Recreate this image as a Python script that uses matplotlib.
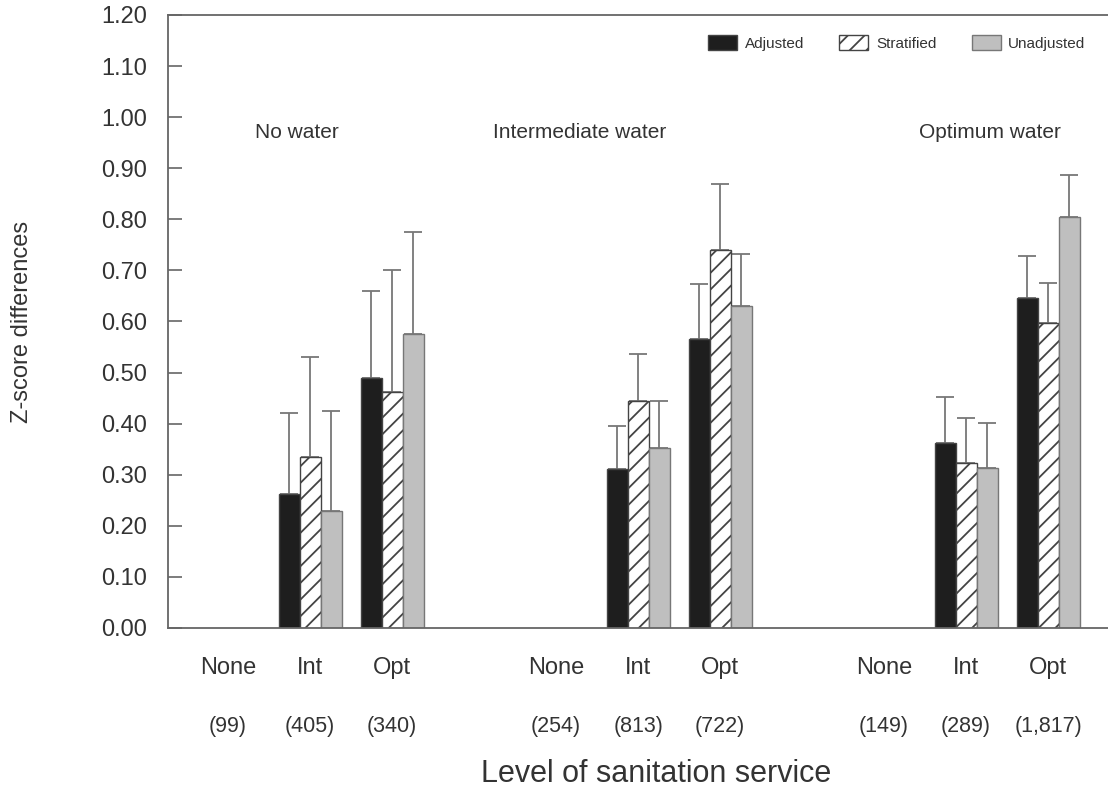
import numpy as np
import matplotlib
matplotlib.use("Agg")
import matplotlib.pyplot as plt

plt.rcParams['font.family'] = ['Liberation Sans', 'DejaVu Sans']
plt.rcParams['hatch.linewidth'] = 1.3

# data (None sanitation = reference level, no bar)
water = ['No water', 'Intermediate water', 'Optimum water']
levels = ['None', 'Int', 'Opt']
counts = ['(99)', '(405)', '(340)', '(254)', '(813)', '(722)', '(149)', '(289)', '(1,817)']

adjusted = [np.nan, 0.263, 0.490, np.nan, 0.311, 0.565, np.nan, 0.362, 0.646]
adjusted_err = [np.nan, 0.157, 0.170, np.nan, 0.084, 0.108, np.nan, 0.090, 0.082]
stratified = [np.nan, 0.335, 0.462, np.nan, 0.444, 0.740, np.nan, 0.323, 0.597]
stratified_err = [np.nan, 0.195, 0.238, np.nan, 0.092, 0.130, np.nan, 0.088, 0.079]
unadjusted = [np.nan, 0.229, 0.575, np.nan, 0.352, 0.630, np.nan, 0.313, 0.805]
unadjusted_err = [np.nan, 0.196, 0.201, np.nan, 0.092, 0.102, np.nan, 0.089, 0.082]

txt = '#333333'
edge = '#444444'

fig = plt.figure(figsize=(11.08, 7.93), dpi=100)
ax = fig.add_axes([0.1516, 0.2081, 0.8484, 0.773])

x = np.array([4 * g + l for g in range(3) for l in range(3)], dtype=float)
w = 0.256

series = [
    ('Adjusted', adjusted, adjusted_err, dict(color='#1e1e1e', edgecolor=edge)),
    ('Stratified', stratified, stratified_err, dict(color='white', edgecolor=edge, hatch='//')),
    ('Unadjusted', unadjusted, unadjusted_err, dict(color='#bfbfbf', edgecolor='#777777')),
]
for i, (name, vals, err, style) in enumerate(series):
    pos = x + (i - 1) * w
    vals = np.array(vals)
    err = np.array(err)
    ax.errorbar(pos, vals, yerr=[np.zeros_like(err), err], fmt='none',
                ecolor='#777777', elinewidth=1.3, capsize=6.5, capthick=1.3, zorder=1)
    ax.bar(pos, vals, width=w, linewidth=1.0, label=name, zorder=2, **style)

ax.set_xlim(-0.732, 10.73)
ax.set_ylim(0, 1.2)
ax.set_yticks(np.arange(0, 1.21, 0.1))
ax.set_yticklabels(['%.2f' % v for v in np.arange(0, 1.21, 0.1)])
ax.tick_params(axis='y', direction='in', length=10, width=1.2, color='#666666',
               labelsize=17, labelcolor=txt, pad=15)

ax.set_xticks(x)
ax.set_xticklabels(levels * 3)
ax.tick_params(axis='x', length=0, labelsize=17, labelcolor=txt, pad=21)

for xi, c in zip(x, counts):
    ax.text(xi, -0.16, c, transform=ax.get_xaxis_transform(), ha='center', va='center',
            fontsize=15.5, color=txt)

title_x = [0.84, 4.29, 9.29]
for tx, name in zip(title_x, water):
    ax.text(tx, 0.969, name, ha='center', va='center', fontsize=15, color=txt)

for side in ['left', 'top', 'bottom']:
    ax.spines[side].set_color('#666666')
    ax.spines[side].set_linewidth(1.3)
ax.spines['right'].set_visible(False)

ax.set_ylabel('Z-score differences', fontsize=17, color=txt)
ax.yaxis.set_label_coords(-0.1436, 0.5)
fig.text(0.592, 0.024, 'Level of sanitation service', ha='center', va='center',
         fontsize=22, color=txt)

leg = ax.legend(loc='upper right', bbox_to_anchor=(0.976, 0.968), ncol=3, frameon=False,
                fontsize=11, handlelength=1.9, handleheight=1.2, handletextpad=0.5,
                columnspacing=2.3, borderpad=0, borderaxespad=0)
for t in leg.get_texts():
    t.set_color(txt)

fig.savefig('out.png', dpi=100)
